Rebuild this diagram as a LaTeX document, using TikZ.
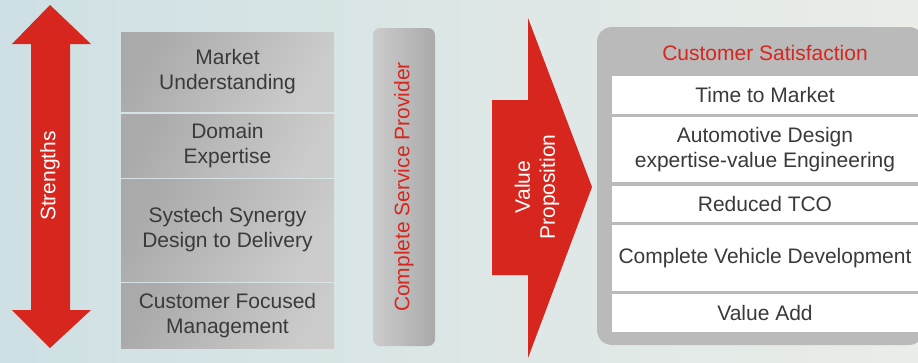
\documentclass[tikz,border=0pt]{standalone}
\usepackage{fontspec}
\setmainfont{Liberation Sans}
\pgfdeclarelayer{bglayer}
\pgfsetlayers{bglayer,main}
\definecolor{vpred}{RGB}{215,38,30}
\definecolor{vptext}{RGB}{58,58,58}
\definecolor{boxdark}{RGB}{170,170,170}
\definecolor{boxlight}{RGB}{204,204,204}
\definecolor{framegray}{RGB}{186,186,186}
\definecolor{bgleft}{RGB}{206,224,228}
\definecolor{bgright}{RGB}{234,237,232}
\tikzstyle{label}=[font=\fontsize{21}{25}\selectfont, align=center, inner sep=0pt]
\tikzstyle{strength}=[label, text=vptext, minimum width=213pt, left color=boxdark, right color=boxlight, shading angle=60]
\tikzstyle{benefit}=[label, text=vptext, fill=white, minimum width=306pt]
\tikzstyle{redfill}=[fill=vpred]

\begin{document}
\begin{tikzpicture}[x=1pt, y=-1pt]
				\useasboundingbox (0, 0) rectangle (918, 362);
				\begin{pgfonlayer}{bglayer}
					\shade [left color=bgleft, right color=bgright] (0, 0) rectangle (918, 362);
				\end{pgfonlayer}
				% strengths arrow
				\fill [style=redfill] (50, 5) -- (91, 44) -- (70, 44) -- (70, 310) -- (91, 310) -- (50, 348) -- (12, 310) -- (31, 310) -- (31, 44) -- (12, 44) -- cycle;
				\node [style=label, text=white, rotate=90] (strengths) at (50, 176) {Strengths};
				% strength boxes
				\node [style=strength, minimum height=79pt] (market) at (227.5, 71.5) {Market\\Understanding};
				\node [style=strength, minimum height=63pt] (domain) at (227.5, 145.5) {Domain\\Expertise};
				\node [style=strength, minimum height=102pt] (synergy) at (227.5, 230) {Systech Synergy\\Design to Delivery};
				\node [style=strength, minimum height=65pt] (focus) at (227.5, 315.5) {Customer Focused\\Management};
				% provider
				\node [style=label, rotate=90, text=vpred, minimum width=318pt, minimum height=62pt, rounded corners=7pt, top color=boxlight, bottom color=boxdark, shading angle=90] (provider) at (404, 187) {Complete Service Provider};
				% value arrow
				\fill [style=redfill] (492, 100) -- (528, 100) -- (528, 18) -- (592, 187) -- (528, 358) -- (528, 275) -- (492, 275) -- cycle;
				\node [style=label, text=white, rotate=90] (value) at (537, 187) {Value\\Proposition};
				% customer satisfaction
				\fill [framegray, rounded corners=15pt] (597, 27) rectangle (924, 345);
				\node [style=label, text=vpred] (satisfaction) at (765, 53) {Customer Satisfaction};
				\node [style=benefit, minimum height=38pt] (time) at (765, 95) {Time to Market};
				\node [style=benefit, minimum height=65pt] (design) at (765, 149.5) {Automotive Design\\expertise-value Engineering};
				\node [style=benefit, minimum height=36pt] (tco) at (765, 204) {Reduced TCO};
				\node [style=benefit, minimum height=66pt] (vehicle) at (765, 258) {Complete Vehicle Development};
				\node [style=benefit, minimum height=38pt] (add) at (765, 313) {Value Add};
			\end{tikzpicture}
\end{document}
